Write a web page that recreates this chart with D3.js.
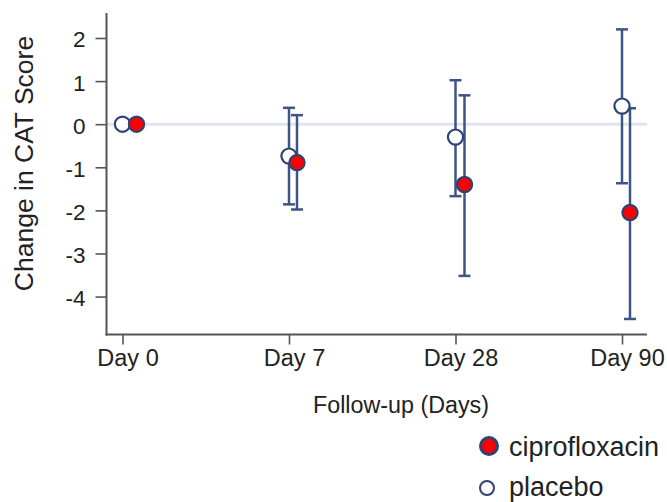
<!DOCTYPE html>
<html>
<head>
<meta charset="utf-8">
<script src="https://cdn.jsdelivr.net/npm/d3@7"></script>
<style>
  html, body { margin: 0; padding: 0; background: #fff; }
  text { font-family: "Liberation Sans", Arial, sans-serif; fill: #222; }
</style>
</head>
<body>
<svg id="chart" width="667" height="502"></svg>
<script>
const categories = ["Day 0", "Day 7", "Day 28", "Day 90"];
const yTicks = [2, 1, 0, -1, -2, -3, -4];

const placeboMean  = [0, -0.74, -0.30, 0.42];
const placeboLower = [null, -1.86, -1.67, -1.37];
const placeboUpper = [null, 0.38, 1.02, 2.20];

const ciproMean  = [0, -0.89, -1.40, -2.05];
const ciproLower = [null, -1.98, -3.52, -4.52];
const ciproUpper = [null, 0.21, 0.67, 0.37];

const seriesNames = ["ciprofloxacin", "placebo"];

(function () {
const svg = d3.select("#chart");
const mL = 106.5, mR = 647, mT = 13, mB = 334.5;

const x = d3.scalePoint().domain(categories).range([122.5, 622]);
const y = d3.scaleLinear().domain([-4.88, 2.58]).range([mB, mT]);

const navy = "#2c4373";
const barColor = "#3d5486";

// zero reference line
svg.append("line")
  .attr("x1", mL).attr("x2", mR)
  .attr("y1", y(0)).attr("y2", y(0))
  .attr("stroke", "#dfe4ee").attr("stroke-width", 3);

// axes
const yAxis = svg.append("g").attr("transform", `translate(${mL},0)`)
  .call(d3.axisLeft(y).tickValues(yTicks).tickSize(11).tickPadding(10).tickFormat(d => String(d)));
const xAxis = svg.append("g").attr("transform", `translate(0,${mB})`)
  .call(d3.axisBottom(x).tickSize(10).tickPadding(5));
[yAxis, xAxis].forEach(g => {
  g.select(".domain").remove();
  g.selectAll(".tick line").attr("stroke", "#555").attr("stroke-width", 1.6);
  g.selectAll(".tick text").attr("fill", "#222")
    .style("font-family", '"Liberation Sans", Arial, sans-serif');
});
yAxis.selectAll(".tick text").style("font-size", "22.5px").attr("dy", "0.4em");
xAxis.selectAll(".tick text").style("font-size", "23.5px").attr("dy", "0.71em").attr("dx", 5);
svg.append("line").attr("x1", mL).attr("x2", mL).attr("y1", mT).attr("y2", mB + 1)
  .attr("stroke", "#555").attr("stroke-width", 2);
svg.append("line").attr("x1", mL - 1).attr("x2", mR).attr("y1", mB).attr("y2", mB)
  .attr("stroke", "#555").attr("stroke-width", 2);

// axis titles
svg.append("text")
  .attr("transform", `translate(33,${(37 + 290) / 2}) rotate(-90)`)
  .attr("text-anchor", "middle").style("font-size", "26.5px")
  .text("Change in CAT Score");
svg.append("text")
  .attr("x", 401).attr("y", 413)
  .attr("text-anchor", "middle").style("font-size", "23.3px")
  .text("Follow-up (Days)");

// error bars
const offsets = { placebo: [0, 0, 0, 0], cipro: [14, 8, 9, 8] };
function drawBars(lower, upper, off) {
  categories.forEach((c, i) => {
    if (lower[i] == null) return;
    const cx = x(c) + off[i];
    const g = svg.append("g").attr("stroke", barColor).attr("stroke-width", 2.5).attr("fill", "none");
    g.append("line").attr("x1", cx).attr("x2", cx).attr("y1", y(upper[i])).attr("y2", y(lower[i]));
    g.append("line").attr("x1", cx - 6).attr("x2", cx + 6).attr("y1", y(upper[i])).attr("y2", y(upper[i]));
    g.append("line").attr("x1", cx - 6).attr("x2", cx + 6).attr("y1", y(lower[i])).attr("y2", y(lower[i]));
  });
}
drawBars(placeboLower, placeboUpper, offsets.placebo);
drawBars(ciproLower, ciproUpper, offsets.cipro);

// points
svg.append("g").selectAll("circle").data(placeboMean).join("circle")
  .attr("cx", (d, i) => x(categories[i]) + offsets.placebo[i])
  .attr("cy", d => y(d)).attr("r", 7.6)
  .attr("fill", "#fff").attr("stroke", navy).attr("stroke-width", 2.2);
svg.append("g").selectAll("circle").data(ciproMean).join("circle")
  .attr("cx", (d, i) => x(categories[i]) + offsets.cipro[i])
  .attr("cy", d => y(d)).attr("r", 7.6)
  .attr("fill", "#f00").attr("stroke", navy).attr("stroke-width", 2.2);

// legend
const leg = svg.append("g");
leg.append("circle").attr("cx", 489).attr("cy", 446).attr("r", 8.5)
  .attr("fill", "#f00").attr("stroke", navy).attr("stroke-width", 3);
leg.append("text").attr("x", 509).attr("y", 456).style("font-size", "27px").text(seriesNames[0]);
leg.append("circle").attr("cx", 487).attr("cy", 488).attr("r", 7)
  .attr("fill", "#fff").attr("stroke", navy).attr("stroke-width", 2);
leg.append("text").attr("x", 509).attr("y", 496).style("font-size", "27px").text(seriesNames[1]);
})();
</script>
</body>
</html>
